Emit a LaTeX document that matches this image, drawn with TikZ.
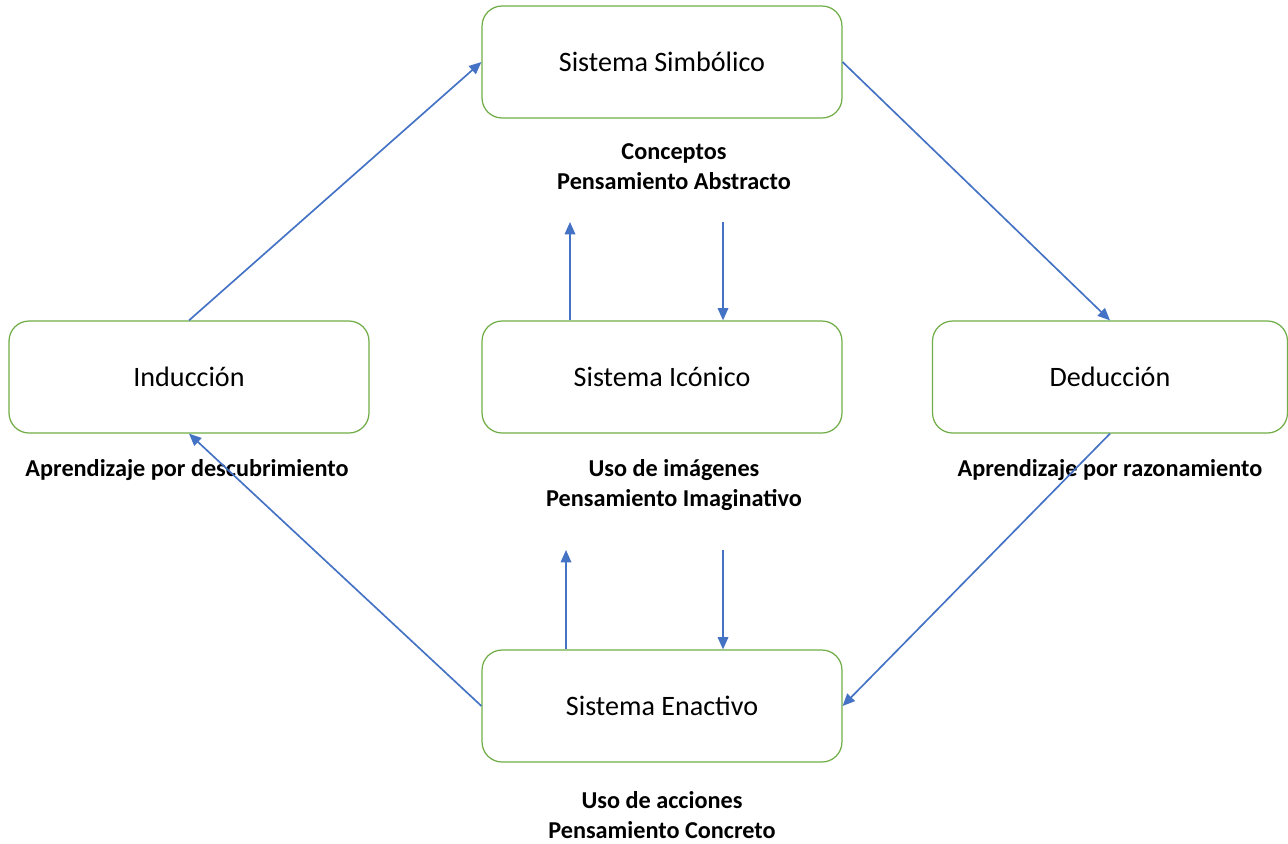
\documentclass[tikz,border=0pt]{standalone}
\usepackage{fontspec}
\setmainfont{Carlito}
\usetikzlibrary{arrows.meta}
\definecolor{boxgreen}{HTML}{70AD47}
\definecolor{arrowblue}{HTML}{4472C4}

\begin{document}
\begin{tikzpicture}[x=0.02cm, y=-0.02cm, >={Triangle[length=7pt,width=6pt]}]
  \tikzset{
    sistema/.style={draw=boxgreen, line width=0.7pt, rounded corners=0.4cm,
      minimum width=7.2cm, minimum height=2.24cm, font=\fontsize{16}{19}\selectfont},
    nota/.style={font=\bfseries\fontsize{13.8}{17}\selectfont, align=center},
    flecha/.style={->, draw=arrowblue, fill=arrowblue, line width=0.95pt}
  }
  \useasboundingbox (0,0) rectangle (1288,843);

  % the five boxes
  \node[sistema] (sim) at (662,62) {Sistema Simbólico};
  \node[sistema] (ico) at (662,377) {Sistema Icónico};
  \node[sistema] (ena) at (662,706) {Sistema Enactivo};
  \node[sistema] (ind) at (189,377) {Inducción};
  \node[sistema, minimum width=7.1cm] (ded) at (1110,377) {Deducción};

  % bold notes under the boxes
  \node[nota] (simnota) at (674,167) {Conceptos\\Pensamiento Abstracto};
  \node[nota] (iconota) at (674,485) {Uso de imágenes\\Pensamiento Imaginativo};
  \node[nota] (enanota) at (662,815) {Uso de acciones\\Pensamiento Concreto};
  \node[nota] (indnota) at (187,470) {Aprendizaje por descubrimiento};
  \node[nota] (dednota) at (1110,470) {Aprendizaje por razonamiento};

  % outer cycle
  \draw[flecha] (ind.north) -- (sim.west);
  \draw[flecha] (sim.east) -- (ded.north);
  \draw[flecha] (ded.south) -- (ena.east);
  \draw[flecha] (ena.west) -- (ind.south);

  % inner arrows
  \coordinate (arriba1) at (570,222);
  \coordinate (abajo1) at (723,222);
  \coordinate (arriba2) at (566,550);
  \coordinate (abajo2) at (723,550);
  \draw[flecha] (ico.north -| arriba1) -- (arriba1);
  \draw[flecha] (abajo1) -- (ico.north -| abajo1);
  \draw[flecha] (ena.north -| arriba2) -- (arriba2);
  \draw[flecha] (abajo2) -- (ena.north -| abajo2);
\end{tikzpicture}
\end{document}
